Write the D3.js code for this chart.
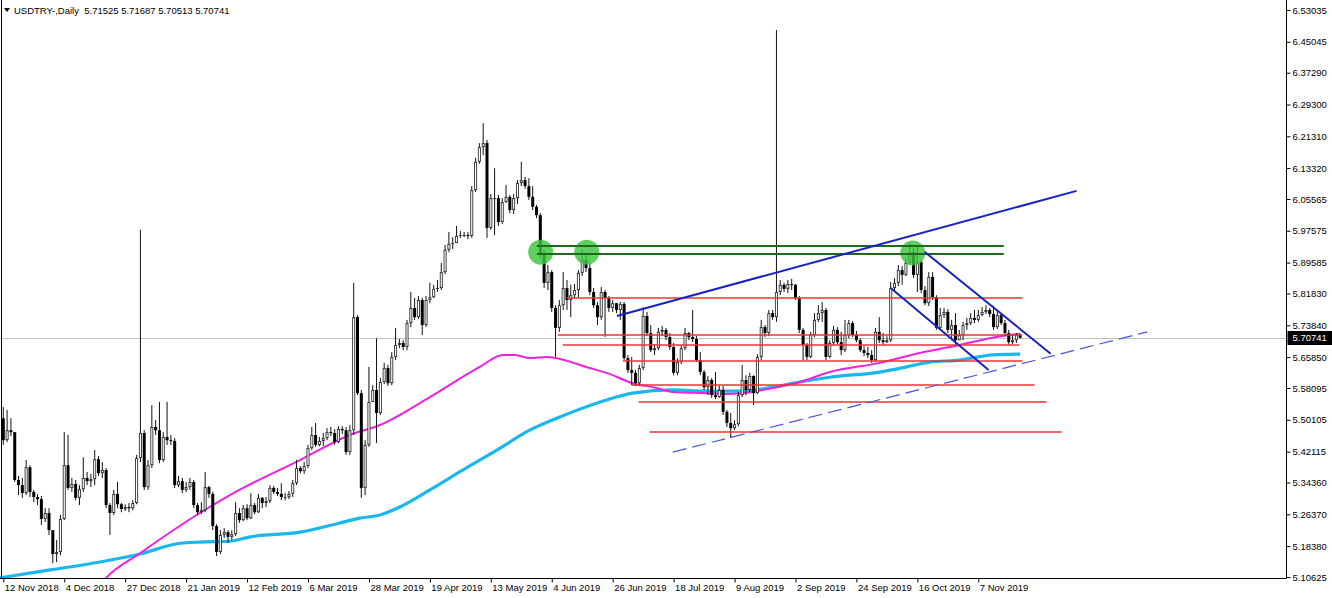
<!DOCTYPE html>
<html><head><meta charset="utf-8">
<script src="https://cdn.jsdelivr.net/npm/d3@7"></script>
<style>body{margin:0;background:#fff;} svg{display:block;font-family:"Liberation Sans",Arial,sans-serif;}</style>
</head><body><svg id="c" width="1332" height="598"></svg>
<script>
// ---------- DATA ----------
const symbolTitle = "USDTRY-,Daily";
const firstOpen = 5.505;
const lastOHLC = [5.71525, 5.71687, 5.70513, 5.70741];
const closes = [
5.450,5.475,5.470,5.350,5.337,5.317,5.382,5.320,5.307,5.302,
5.252,5.267,5.224,5.164,5.169,5.252,5.387,5.330,5.340,5.305,
5.327,5.355,5.347,5.352,5.402,5.367,5.375,5.287,5.267,5.315,
5.289,5.277,5.282,5.279,5.292,5.405,5.468,5.332,5.387,5.483,
5.475,5.400,5.458,5.450,5.448,5.337,5.347,5.325,5.332,5.345,
5.287,5.269,5.274,5.332,5.315,5.234,5.169,5.212,5.219,5.207,
5.214,5.267,5.249,5.279,5.254,5.287,5.269,5.305,5.292,5.297,
5.330,5.320,5.315,5.307,5.307,5.315,5.342,5.380,5.372,5.385,
5.430,5.463,5.438,5.448,5.455,5.470,5.468,5.445,5.478,5.475,
5.420,5.475,5.759,5.568,5.330,5.438,5.546,5.576,5.518,5.596,
5.631,5.593,5.659,5.689,5.694,5.684,5.744,5.782,5.759,5.802,
5.739,5.802,5.809,5.830,5.832,5.872,5.928,5.943,5.945,5.963,
5.965,5.965,5.963,6.078,6.149,6.186,6.196,5.983,6.058,6.058,
5.998,6.048,6.061,6.028,6.058,6.096,6.103,6.088,6.061,6.036,
6.015,5.920,5.845,5.872,5.782,5.732,5.789,5.832,5.802,5.814,
5.827,5.870,5.902,5.882,5.822,5.789,5.759,5.822,5.807,5.782,
5.794,5.777,5.792,5.656,5.626,5.619,5.593,5.631,5.762,5.719,
5.676,5.681,5.722,5.727,5.709,5.684,5.619,5.646,5.681,5.719,
5.709,5.704,5.651,5.621,5.583,5.601,5.563,5.558,5.576,5.521,
5.493,5.480,5.490,5.563,5.601,5.576,5.611,5.568,5.659,5.734,
5.719,5.769,5.759,5.822,5.840,5.830,5.842,5.840,5.807,5.727,
5.689,5.659,5.714,5.752,5.769,5.777,5.659,5.694,5.727,5.696,
5.676,5.714,5.744,5.714,5.701,5.676,5.669,5.664,5.651,5.722,
5.701,5.696,5.701,5.832,5.845,5.877,5.865,5.895,5.922,5.865,
5.897,5.827,5.794,5.860,5.809,5.732,5.764,5.772,5.727,5.739,
5.701,5.714,5.739,5.744,5.757,5.752,5.764,5.772,5.777,5.767,
5.734,5.764,5.744,5.719,5.696,5.701,5.715,5.70741];
const highs = [
5.533,5.526,5.505,5.463,5.360,5.355,5.400,5.387,5.325,5.315,
5.310,5.279,5.279,5.224,5.199,5.262,5.470,5.463,5.355,5.350,
5.337,5.407,5.370,5.365,5.425,5.410,5.395,5.380,5.292,5.325,
5.345,5.292,5.289,5.292,5.299,5.413,5.978,5.475,5.400,5.538,
5.500,5.546,5.470,5.546,5.463,5.455,5.360,5.355,5.345,5.355,
5.350,5.292,5.294,5.370,5.335,5.320,5.239,5.224,5.229,5.224,
5.224,5.294,5.279,5.287,5.289,5.317,5.292,5.315,5.307,5.307,
5.337,5.335,5.330,5.342,5.317,5.322,5.350,5.400,5.385,5.395,
5.438,5.483,5.493,5.458,5.468,5.480,5.483,5.478,5.485,5.485,
5.483,5.488,5.845,5.764,5.576,5.450,5.634,5.588,5.706,5.606,
5.644,5.639,5.671,5.732,5.704,5.701,5.752,5.822,5.807,5.812,
5.807,5.812,5.845,5.840,5.852,5.895,5.940,5.973,5.960,5.988,
5.975,5.973,5.973,6.088,6.159,6.196,6.246,6.204,6.068,6.133,
6.066,6.058,6.091,6.066,6.068,6.103,6.149,6.111,6.108,6.088,
6.041,6.020,5.927,5.890,5.877,5.789,5.802,5.872,5.852,5.840,
5.842,5.877,5.927,5.915,5.895,5.832,5.797,5.835,5.827,5.812,
5.802,5.789,5.797,5.797,5.664,5.659,5.626,5.639,5.784,5.772,
5.739,5.691,5.732,5.737,5.732,5.719,5.694,5.656,5.689,5.732,
5.722,5.777,5.711,5.671,5.626,5.611,5.606,5.621,5.586,5.586,
5.526,5.518,5.500,5.571,5.639,5.613,5.619,5.613,5.666,5.752,
5.739,5.777,5.777,6.480,5.852,5.845,5.852,5.855,5.842,5.812,
5.732,5.694,5.722,5.769,5.789,5.797,5.782,5.701,5.737,5.734,
5.722,5.752,5.752,5.749,5.724,5.706,5.686,5.684,5.676,5.732,
5.759,5.719,5.711,5.847,5.857,5.890,5.887,5.907,5.945,5.933,
5.940,5.902,5.837,5.872,5.872,5.814,5.782,5.782,5.779,5.752,
5.769,5.727,5.747,5.757,5.769,5.777,5.777,5.784,5.789,5.782,
5.787,5.777,5.769,5.752,5.727,5.714,5.719,5.71687];
const lows = [
5.438,5.445,5.460,5.345,5.312,5.305,5.312,5.307,5.294,5.287,
5.237,5.244,5.212,5.141,5.144,5.161,5.249,5.325,5.320,5.299,
5.287,5.320,5.337,5.332,5.337,5.360,5.355,5.279,5.212,5.262,
5.279,5.269,5.272,5.269,5.274,5.289,5.395,5.325,5.325,5.380,
5.463,5.392,5.395,5.438,5.438,5.330,5.332,5.317,5.320,5.325,
5.279,5.262,5.264,5.269,5.305,5.224,5.159,5.164,5.204,5.192,
5.199,5.209,5.242,5.247,5.249,5.252,5.264,5.267,5.279,5.282,
5.292,5.315,5.310,5.299,5.299,5.302,5.307,5.337,5.367,5.365,
5.380,5.425,5.433,5.435,5.435,5.450,5.460,5.438,5.443,5.465,
5.413,5.413,5.463,5.563,5.305,5.312,5.433,5.546,5.443,5.513,
5.591,5.586,5.588,5.651,5.681,5.676,5.676,5.734,5.752,5.754,
5.714,5.734,5.794,5.807,5.822,5.827,5.867,5.922,5.930,5.950,
5.958,5.960,5.955,5.958,6.073,6.144,6.166,5.958,5.978,5.965,
5.988,5.993,6.046,6.020,6.018,6.043,6.088,6.081,6.053,6.028,
6.008,5.907,5.832,5.827,5.772,5.659,5.722,5.777,5.777,5.759,
5.807,5.809,5.862,5.872,5.814,5.782,5.739,5.752,5.709,5.772,
5.772,5.769,5.752,5.651,5.619,5.588,5.586,5.586,5.626,5.711,
5.671,5.664,5.676,5.711,5.701,5.676,5.613,5.613,5.641,5.676,
5.701,5.696,5.646,5.613,5.576,5.563,5.556,5.553,5.556,5.513,
5.483,5.455,5.475,5.485,5.558,5.563,5.571,5.538,5.566,5.651,
5.709,5.711,5.752,5.747,5.814,5.822,5.819,5.827,5.802,5.719,
5.651,5.651,5.656,5.709,5.747,5.747,5.651,5.656,5.689,5.691,
5.664,5.671,5.706,5.709,5.696,5.671,5.661,5.656,5.644,5.646,
5.694,5.689,5.694,5.696,5.822,5.837,5.840,5.862,5.890,5.857,
5.822,5.819,5.789,5.787,5.802,5.727,5.727,5.757,5.719,5.701,
5.689,5.701,5.701,5.727,5.739,5.744,5.747,5.762,5.767,5.759,
5.727,5.729,5.739,5.711,5.689,5.691,5.694,5.70513];

const dateLabels = ["12 Nov 2018","4 Dec 2018","27 Dec 2018","21 Jan 2019","12 Feb 2019","6 Mar 2019","28 Mar 2019","19 Apr 2019","13 May 2019","4 Jun 2019","26 Jun 2019","18 Jul 2019","9 Aug 2019","2 Sep 2019","24 Sep 2019","16 Oct 2019","7 Nov 2019"];
const barsPerLabel = 16;
const priceTicks = [6.53035,6.45045,6.37290,6.29300,6.21310,6.13320,6.05565,5.97575,5.89585,5.81830,5.73840,5.65850,5.58095,5.50105,5.42115,5.34360,5.26370,5.18380,5.10625];

// moving averages (bar index, price)
const maMagentaIdx = [24,27.2,35.9,51.6,59.5,77.9,91,98.9,112,125.1,131.2,134.3,138.2,142.7,146.1,154,158.4,165.3,171.6,175.8,184.7,190,196.8,202,209.1,217,230.1,240.6,251.1,260.8,267];
const maMagentaVal = [5.07,5.106,5.166,5.267,5.312,5.400,5.463,5.488,5.558,5.634,5.664,5.664,5.656,5.659,5.654,5.631,5.619,5.593,5.581,5.571,5.568,5.566,5.571,5.581,5.596,5.621,5.644,5.669,5.689,5.709,5.717];
const maCyanIdx = [-1,12.3,25.4,35.9,46.4,51.6,59.5,64.8,77.9,88.4,93.6,98.9,104.1,112,120.7,129.6,138.2,146.1,149.5,158.4,165.3,175.8,184.7,193.4,202,209.1,217,230.1,237.2,243.2,251.1,259.8,267];
const maCyanVal = [5.104,5.124,5.144,5.164,5.191,5.194,5.196,5.207,5.219,5.242,5.254,5.262,5.282,5.325,5.375,5.425,5.475,5.508,5.521,5.551,5.568,5.576,5.573,5.573,5.583,5.596,5.608,5.621,5.634,5.646,5.651,5.664,5.666];

// drawn objects: [barA, priceA, barB, priceB]
const blueLines = [[161.1,5.762,281.8,6.076],[233,5.832,258.7,5.626],[241.9,5.923,275,5.667]];
const dashedLine = [175.8,5.420,300.4,5.722];
const greenLevels = [5.937,5.917];
const greenRange = [140.1,262.7];
const greenMarks = [[141.1,5.922],[153.2,5.922],[238.8,5.920]];
const redLevels = [5.807,5.714,5.689,5.649,5.588,5.547,5.470];
const redStart  = [148.0,145.6,146.9,162.7,165.0,166.8,169.7];
const redEnd    = [267.6,267.4,266.8,267.6,270.8,273.9,277.9];

// ---------- SCALES ----------
const W = 1332, H = 598, plotR = 1286.5, plotB = 578.5;
const x = d3.scaleLinear().domain([0, 256]).range([3.3, 978.3]);
const y = d3.scaleLinear().domain([5.10625, 6.53035]).range([577, 10]);
const crisp = v => Math.round(v) + 0.5;
const svg = d3.select("#c");

svg.append("defs").append("clipPath").attr("id","clip")
  .append("rect").attr("x",0).attr("y",0).attr("width",plotR).attr("height",plotB);
const g = svg.append("g").attr("clip-path","url(#clip)");

const n = closes.length;
const bars = d3.range(n).map(i => {
  const o = i === 0 ? firstOpen : (i === n-1 ? lastOHLC[0] : closes[i-1]);
  const c = closes[i];
  return {i, o, c, h: Math.max(highs[i], o, c), l: Math.min(lows[i], o, c)};
});

// current price line
g.append("line").attr("x1",0).attr("x2",plotR).attr("y1",crisp(y(lastOHLC[3]))).attr("y2",crisp(y(lastOHLC[3])))
  .attr("stroke","#c0c0c0").attr("stroke-width",1);

// MAs
const line = d3.line().curve(d3.curveMonotoneX);
g.append("path").attr("d", line(maCyanIdx.map((d,k)=>[x(d), y(maCyanVal[k])])))
  .attr("fill","none").attr("stroke","#1ab6ee").attr("stroke-width",3.2);
g.append("path").attr("d", line(maMagentaIdx.map((d,k)=>[x(d), y(maMagentaVal[k])])))
  .attr("fill","none").attr("stroke","#ee22dd").attr("stroke-width",2);

// candles
const cg = g.append("g");
bars.forEach(b=>{
  const cx = x(b.i);
  const bull = b.c >= b.o;
  cg.append("line").attr("x1",cx).attr("x2",cx).attr("y1",y(b.h)).attr("y2",y(b.l))
    .attr("stroke", "#111").attr("stroke-width",1);
  const top = y(Math.max(b.o,b.c)), bot = y(Math.min(b.o,b.c));
  const hgt = Math.max(1, bot-top);
  cg.append("rect").attr("x",cx-1.5).attr("y",top).attr("width",3).attr("height",hgt)
    .attr("fill", bull ? "#333" : "#000");
  if (bull && hgt > 2) {
    cg.append("rect").attr("x",cx-0.6).attr("y",top+1).attr("width",1.2).attr("height",hgt-2)
      .attr("fill","#fff");
  }
});

// red levels (objects drawn over the price chart)
redLevels.forEach((p,k)=>{
  g.append("line").attr("x1",x(redStart[k])).attr("x2",x(redEnd[k]))
   .attr("y1",Math.round(y(p))).attr("y2",Math.round(y(p))).attr("stroke","#ee3333").attr("stroke-width",1.3);
});

// green circles
greenMarks.forEach(d=>{
  g.append("circle").attr("cx",x(d[0])).attr("cy",y(d[1])).attr("r",12.5)
   .attr("fill","#3cc43c").attr("fill-opacity",0.82);
});

// green horizontal levels
greenLevels.forEach(p=>{
  g.append("line").attr("x1",x(greenRange[0])).attr("x2",x(greenRange[1]))
   .attr("y1",Math.round(y(p))).attr("y2",Math.round(y(p))).attr("stroke","#1d6a1d").attr("stroke-width",2);
});

// blue trend lines
blueLines.forEach(d=>{
  g.append("line").attr("x1",x(d[0])).attr("y1",y(d[1])).attr("x2",x(d[2])).attr("y2",y(d[3]))
   .attr("stroke","#1a22c4").attr("stroke-width",2);
});
g.append("line").attr("x1",x(dashedLine[0])).attr("y1",y(dashedLine[1]))
  .attr("x2",x(dashedLine[2])).attr("y2",y(dashedLine[3]))
  .attr("stroke","#4a58d6").attr("stroke-width",1.2).attr("stroke-dasharray","14,6");

// frame
svg.append("line").attr("x1",1.5).attr("x2",1.5).attr("y1",0).attr("y2",plotB).attr("stroke","#000");
svg.append("line").attr("x1",0).attr("x2",plotR).attr("y1",plotB).attr("y2",plotB).attr("stroke","#000");
svg.append("line").attr("x1",plotR).attr("x2",plotR).attr("y1",0).attr("y2",plotB).attr("stroke","#000");

// y axis
const ya = svg.append("g").attr("transform",`translate(${plotR},0)`)
  .call(d3.axisRight(y).tickValues(priceTicks).tickFormat(d3.format(".5f")).tickSize(4).tickSizeOuter(0));
ya.select(".domain").remove();
ya.selectAll("text").attr("font-size",9.5).attr("font-family","Liberation Sans, Arial").attr("fill","#000").attr("x",6);
ya.selectAll("line").attr("stroke","#000");

// x axis
const xa = svg.append("g").attr("transform",`translate(0,${plotB})`)
  .call(d3.axisBottom(x).tickValues(d3.range(0, dateLabels.length*barsPerLabel, barsPerLabel))
    .tickFormat((d,k)=>dateLabels[k]).tickSize(4).tickSizeOuter(0));
xa.select(".domain").remove();
xa.selectAll("text").attr("font-size",9.5).attr("font-family","Liberation Sans, Arial").attr("fill","#000")
  .attr("text-anchor","start").attr("x",1).attr("y",6);
xa.selectAll("line").attr("stroke","#000");

// current price box
const cy = y(lastOHLC[3]);
svg.append("rect").attr("x",plotR+1).attr("y",Math.round(cy)-7).attr("width",W-plotR-1).attr("height",14).attr("fill","#000");
svg.append("text").attr("x",plotR+6).attr("y",cy+3.4).attr("fill","#fff").attr("font-size",9.5)
  .text(d3.format(".5f")(lastOHLC[3]));

// header
svg.append("path").attr("d","M4,8 L10,8 L7,12 Z").attr("fill","#000");
svg.append("text").attr("x",14).attr("y",14).attr("font-size",9.5).attr("fill","#000")
  .attr("xml:space","preserve")
  .text(symbolTitle + "  " + lastOHLC.map(d3.format(".5f")).join(" "));
</script></body></html>
